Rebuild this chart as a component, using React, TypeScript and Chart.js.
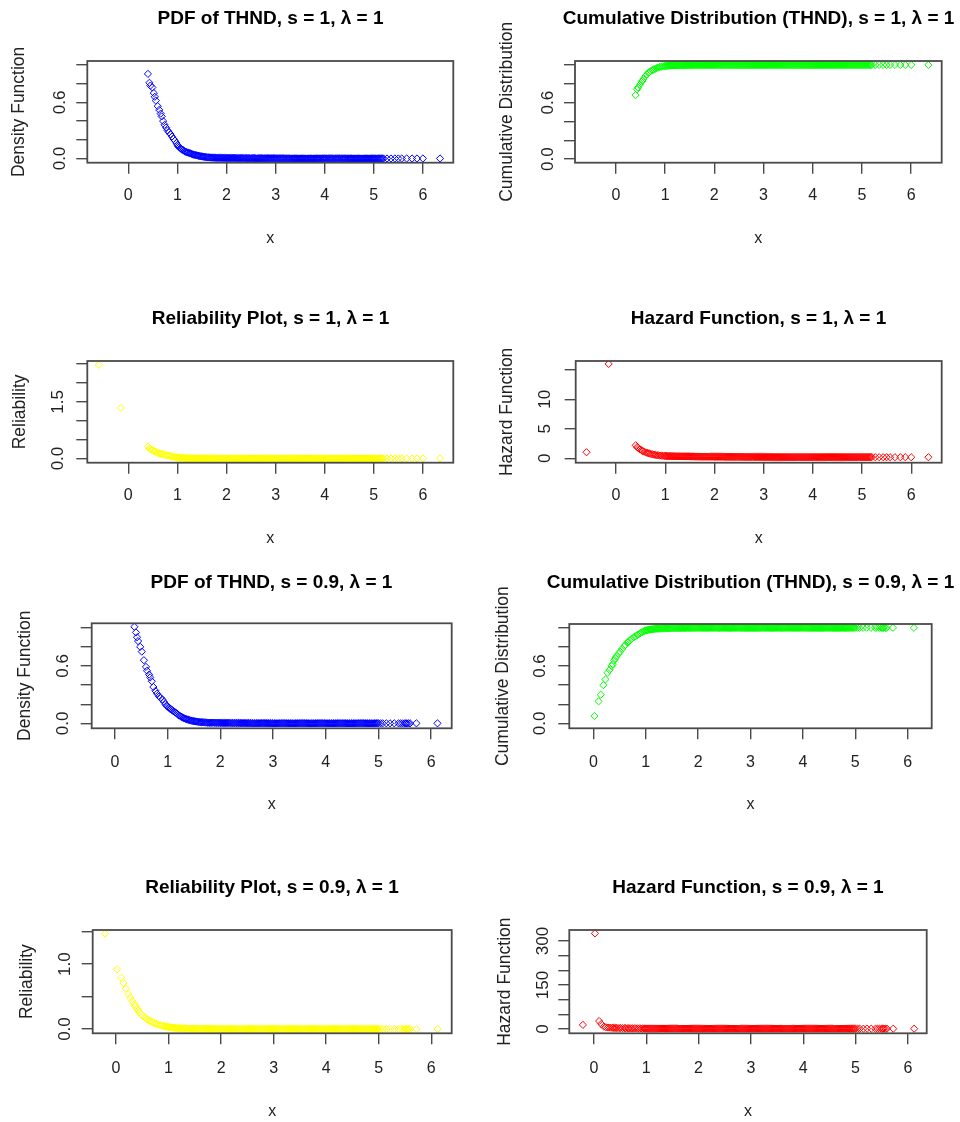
import React, { useEffect, useRef } from "react";
import { Chart, registerables } from "chart.js";

Chart.register(...registerables);

// ---------------- data ----------------
const X_TICKS = [0, 1, 2, 3, 4, 5, 6];
const X_TICK_LABELS = ["0", "1", "2", "3", "4", "5", "6"];

// sample points, s = 1  (head 23, dense band 211, tail 10)
const X_S1 = [
  -0.60, -0.15, 0.40, 0.43, 0.45, 0.49, 0.52, 0.54, 0.56, 0.60,
  0.63, 0.66, 0.68, 0.71, 0.74, 0.77, 0.80, 0.83, 0.86, 0.89,
  0.92, 0.95, 0.98,
  1.00, 1.02, 1.04, 1.06, 1.08, 1.10, 1.12, 1.14, 1.16, 1.18,
  1.20, 1.22, 1.24, 1.26, 1.28, 1.30, 1.32, 1.34, 1.36, 1.38,
  1.40, 1.42, 1.44, 1.46, 1.48, 1.50, 1.52, 1.54, 1.56, 1.58,
  1.60, 1.62, 1.64, 1.66, 1.68, 1.70, 1.72, 1.74, 1.76, 1.78,
  1.80, 1.82, 1.84, 1.86, 1.88, 1.90, 1.92, 1.94, 1.96, 1.98,
  2.00, 2.02, 2.04, 2.06, 2.08, 2.10, 2.12, 2.14, 2.16, 2.18,
  2.20, 2.22, 2.24, 2.26, 2.28, 2.30, 2.32, 2.34, 2.36, 2.38,
  2.40, 2.42, 2.44, 2.46, 2.48, 2.50, 2.52, 2.54, 2.56, 2.58,
  2.60, 2.62, 2.64, 2.66, 2.68, 2.70, 2.72, 2.74, 2.76, 2.78,
  2.80, 2.82, 2.84, 2.86, 2.88, 2.90, 2.92, 2.94, 2.96, 2.98,
  3.00, 3.02, 3.04, 3.06, 3.08, 3.10, 3.12, 3.14, 3.16, 3.18,
  3.20, 3.22, 3.24, 3.26, 3.28, 3.30, 3.32, 3.34, 3.36, 3.38,
  3.40, 3.42, 3.44, 3.46, 3.48, 3.50, 3.52, 3.54, 3.56, 3.58,
  3.60, 3.62, 3.64, 3.66, 3.68, 3.70, 3.72, 3.74, 3.76, 3.78,
  3.80, 3.82, 3.84, 3.86, 3.88, 3.90, 3.92, 3.94, 3.96, 3.98,
  4.00, 4.02, 4.04, 4.06, 4.08, 4.10, 4.12, 4.14, 4.16, 4.18,
  4.20, 4.22, 4.24, 4.26, 4.28, 4.30, 4.32, 4.34, 4.36, 4.38,
  4.40, 4.42, 4.44, 4.46, 4.48, 4.50, 4.52, 4.54, 4.56, 4.58,
  4.60, 4.62, 4.64, 4.66, 4.68, 4.70, 4.72, 4.74, 4.76, 4.78,
  4.80, 4.82, 4.84, 4.86, 4.88, 4.90, 4.92, 4.94, 4.96, 4.98,
  5.00, 5.02, 5.04, 5.06, 5.08, 5.10, 5.12, 5.14, 5.16, 5.18,
  5.20,
  5.27, 5.35, 5.43, 5.50, 5.57, 5.67, 5.78, 5.88, 6.00, 6.35,
];

const PDF_S1 = [
  null, null, 0.905, 0.81, 0.78, 0.76, 0.70, 0.66, 0.62, 0.56,
  0.52, 0.48, 0.45, 0.40, 0.36, 0.33, 0.30, 0.28, 0.26, 0.235,
  0.21, 0.19, 0.165,
  0.145, 0.13, 0.12, 0.11, 0.10, 0.095, 0.088, 0.08, 0.073, 0.07,
  0.065, 0.062, 0.058, 0.055, 0.051, 0.047, 0.043, 0.04, 0.038, 0.035,
  0.033, 0.031, 0.028, 0.026, 0.024, 0.022, 0.02, 0.018, 0.017, 0.015,
  0.014, 0.013, 0.012, 0.011, 0.010, 0.010, 0.009, 0.009, 0.008, 0.008,
  0.007, 0.007, 0.007, 0.007, 0.007, 0.006, 0.006, 0.006, 0.006, 0.006,
  0.005, 0.005, 0.005, 0.005, 0.005, 0.005, 0.005, 0.005, 0.005, 0.005,
  0.004, 0.004, 0.004, 0.004, 0.004, 0.004, 0.004, 0.004, 0.004, 0.004,
  0.003, 0.003, 0.003, 0.003, 0.003, 0.003, 0.003, 0.003, 0.003, 0.003,
  0.002, 0.002, 0.002, 0.002, 0.002, 0.002, 0.002, 0.002, 0.002, 0.002,
  0.002, 0.002, 0.002, 0.002, 0.002, 0.002, 0.002, 0.002, 0.002, 0.002,
  0.001, 0.001, 0.001, 0.001, 0.001, 0.001, 0.001, 0.001, 0.001, 0.001,
  0, 0, 0, 0, 0, 0, 0, 0, 0, 0,
  0, 0, 0, 0, 0, 0, 0, 0, 0, 0,
  0, 0, 0, 0, 0, 0, 0, 0, 0, 0,
  0, 0, 0, 0, 0, 0, 0, 0, 0, 0,
  0, 0, 0, 0, 0, 0, 0, 0, 0, 0,
  0, 0, 0, 0, 0, 0, 0, 0, 0, 0,
  0, 0, 0, 0, 0, 0, 0, 0, 0, 0,
  0, 0, 0, 0, 0, 0, 0, 0, 0, 0,
  0, 0, 0, 0, 0, 0, 0, 0, 0, 0,
  0, 0, 0, 0, 0, 0, 0, 0, 0, 0,
  0,
  0, 0, 0, 0, 0, 0, 0, 0, 0, 0,
];

const CDF_S1 = [
  null, null, 0.68, 0.74, 0.76, 0.79, 0.82, 0.83, 0.85, 0.88,
  0.90, 0.915, 0.925, 0.935, 0.945, 0.952, 0.96, 0.967, 0.972, 0.977,
  0.981, 0.985, 0.987,
  0.989, 0.99, 0.991, 0.992, 0.993, 0.994, 0.994, 0.995, 0.995, 0.996,
  0.996, 0.997, 0.997, 0.997, 0.997, 0.998, 0.998, 0.998, 0.998, 0.998,
  0.998, 0.998, 0.998, 0.999, 0.999, 0.999, 0.999, 0.999, 0.999, 0.999,
  1, 1, 1, 1, 1, 1, 1, 1, 1, 1,
  1, 1, 1, 1, 1, 1, 1, 1, 1, 1,
  1, 1, 1, 1, 1, 1, 1, 1, 1, 1,
  1, 1, 1, 1, 1, 1, 1, 1, 1, 1,
  1, 1, 1, 1, 1, 1, 1, 1, 1, 1,
  1, 1, 1, 1, 1, 1, 1, 1, 1, 1,
  1, 1, 1, 1, 1, 1, 1, 1, 1, 1,
  1, 1, 1, 1, 1, 1, 1, 1, 1, 1,
  1, 1, 1, 1, 1, 1, 1, 1, 1, 1,
  1, 1, 1, 1, 1, 1, 1, 1, 1, 1,
  1, 1, 1, 1, 1, 1, 1, 1, 1, 1,
  1, 1, 1, 1, 1, 1, 1, 1, 1, 1,
  1, 1, 1, 1, 1, 1, 1, 1, 1, 1,
  1, 1, 1, 1, 1, 1, 1, 1, 1, 1,
  1, 1, 1, 1, 1, 1, 1, 1, 1, 1,
  1, 1, 1, 1, 1, 1, 1, 1, 1, 1,
  1, 1, 1, 1, 1, 1, 1, 1, 1, 1,
  1, 1, 1, 1, 1, 1, 1, 1, 1, 1,
  1,
  1, 1, 1, 1, 1, 1, 1, 1, 1, 1,
];

const REL_S1 = [
  2.48, 1.34, 0.32, 0.27, 0.25, 0.22, 0.20, 0.19, 0.18, 0.15,
  0.14, 0.13, 0.12, 0.11, 0.10, 0.092, 0.085, 0.075, 0.065, 0.055,
  0.046, 0.038, 0.032,
  0.028, 0.025, 0.022, 0.02, 0.018, 0.016, 0.014, 0.013, 0.012, 0.011,
  0.010, 0.009, 0.008, 0.007, 0.007, 0.006, 0.006, 0.005, 0.005, 0.004,
  0.004, 0.004, 0.003, 0.003, 0.003, 0.003, 0.002, 0.002, 0.002, 0.002,
  0.002, 0.002, 0.002, 0.002, 0.002, 0.001, 0.001, 0.001, 0.001, 0.001,
  0.001, 0.001, 0.001, 0.001, 0.001, 0.001, 0.001, 0.001, 0.001, 0.001,
  0, 0, 0, 0, 0, 0, 0, 0, 0, 0,
  0, 0, 0, 0, 0, 0, 0, 0, 0, 0,
  0, 0, 0, 0, 0, 0, 0, 0, 0, 0,
  0, 0, 0, 0, 0, 0, 0, 0, 0, 0,
  0, 0, 0, 0, 0, 0, 0, 0, 0, 0,
  0, 0, 0, 0, 0, 0, 0, 0, 0, 0,
  0, 0, 0, 0, 0, 0, 0, 0, 0, 0,
  0, 0, 0, 0, 0, 0, 0, 0, 0, 0,
  0, 0, 0, 0, 0, 0, 0, 0, 0, 0,
  0, 0, 0, 0, 0, 0, 0, 0, 0, 0,
  0, 0, 0, 0, 0, 0, 0, 0, 0, 0,
  0, 0, 0, 0, 0, 0, 0, 0, 0, 0,
  0, 0, 0, 0, 0, 0, 0, 0, 0, 0,
  0, 0, 0, 0, 0, 0, 0, 0, 0, 0,
  0, 0, 0, 0, 0, 0, 0, 0, 0, 0,
  0, 0, 0, 0, 0, 0, 0, 0, 0, 0,
  0,
  0, 0, 0, 0, 0, 0, 0, 0, 0, 0,
];

const HAZ_S1 = [
  1.02, 16.0, 2.2, 1.9, 1.75, 1.5, 1.35, 1.25, 1.15, 1.0,
  0.92, 0.84, 0.8, 0.72, 0.66, 0.61, 0.57, 0.53, 0.49, 0.46,
  0.44, 0.42, 0.40,
  0.39, 0.38, 0.37, 0.37, 0.36, 0.36, 0.35, 0.35, 0.34, 0.34,
  0.33, 0.33, 0.33, 0.33, 0.33, 0.32, 0.32, 0.32, 0.32, 0.32,
  0.31, 0.31, 0.31, 0.31, 0.31, 0.30, 0.30, 0.30, 0.30, 0.30,
  0.29, 0.29, 0.29, 0.29, 0.29, 0.28, 0.28, 0.28, 0.28, 0.28,
  0.27, 0.27, 0.27, 0.27, 0.27, 0.27, 0.27, 0.27, 0.27, 0.27,
  0.26, 0.26, 0.26, 0.26, 0.26, 0.26, 0.26, 0.26, 0.26, 0.26,
  0.25, 0.25, 0.25, 0.25, 0.25, 0.25, 0.25, 0.25, 0.25, 0.25,
  0.24, 0.24, 0.24, 0.24, 0.24, 0.24, 0.24, 0.24, 0.24, 0.24,
  0.23, 0.23, 0.23, 0.23, 0.23, 0.23, 0.23, 0.23, 0.23, 0.23,
  0.22, 0.22, 0.22, 0.22, 0.22, 0.22, 0.22, 0.22, 0.22, 0.22,
  0.21, 0.21, 0.21, 0.21, 0.21, 0.21, 0.21, 0.21, 0.21, 0.21,
  0.2, 0.2, 0.2, 0.2, 0.2, 0.2, 0.2, 0.2, 0.2, 0.2,
  0.2, 0.2, 0.2, 0.2, 0.2, 0.2, 0.2, 0.2, 0.2, 0.2,
  0.2, 0.2, 0.2, 0.2, 0.2, 0.2, 0.2, 0.2, 0.2, 0.2,
  0.2, 0.2, 0.2, 0.2, 0.2, 0.2, 0.2, 0.2, 0.2, 0.2,
  0.2, 0.2, 0.2, 0.2, 0.2, 0.2, 0.2, 0.2, 0.2, 0.2,
  0.2, 0.2, 0.2, 0.2, 0.2, 0.2, 0.2, 0.2, 0.2, 0.2,
  0.2, 0.2, 0.2, 0.2, 0.2, 0.2, 0.2, 0.2, 0.2, 0.2,
  0.2, 0.2, 0.2, 0.2, 0.2, 0.2, 0.2, 0.2, 0.2, 0.2,
  0.2, 0.2, 0.2, 0.2, 0.2, 0.2, 0.2, 0.2, 0.2, 0.2,
  0.2, 0.2, 0.2, 0.2, 0.2, 0.2, 0.2, 0.2, 0.2, 0.2,
  0.2,
  0.18, 0.18, 0.18, 0.18, 0.18, 0.18, 0.18, 0.18, 0.18, 0.18,
];

// sample points, s = 0.9  (head 30, dense band 200, tail 16)
const X_S09 = [
  -0.21, 0.02, 0.10, 0.14, 0.19, 0.23, 0.27, 0.31, 0.35, 0.37,
  0.40, 0.42, 0.44, 0.48, 0.51, 0.55, 0.59, 0.61, 0.65, 0.67,
  0.70, 0.73, 0.77, 0.80, 0.84, 0.87, 0.90, 0.93, 0.96, 0.98,
  1.00, 1.02, 1.04, 1.06, 1.08, 1.10, 1.12, 1.14, 1.16, 1.18,
  1.20, 1.22, 1.24, 1.26, 1.28, 1.30, 1.32, 1.34, 1.36, 1.38,
  1.40, 1.42, 1.44, 1.46, 1.48, 1.50, 1.52, 1.54, 1.56, 1.58,
  1.60, 1.62, 1.64, 1.66, 1.68, 1.70, 1.72, 1.74, 1.76, 1.78,
  1.80, 1.82, 1.84, 1.86, 1.88, 1.90, 1.92, 1.94, 1.96, 1.98,
  2.00, 2.02, 2.04, 2.06, 2.08, 2.10, 2.12, 2.14, 2.16, 2.18,
  2.20, 2.22, 2.24, 2.26, 2.28, 2.30, 2.32, 2.34, 2.36, 2.38,
  2.40, 2.42, 2.44, 2.46, 2.48, 2.50, 2.52, 2.54, 2.56, 2.58,
  2.60, 2.62, 2.64, 2.66, 2.68, 2.70, 2.72, 2.74, 2.76, 2.78,
  2.80, 2.82, 2.84, 2.86, 2.88, 2.90, 2.92, 2.94, 2.96, 2.98,
  3.00, 3.02, 3.04, 3.06, 3.08, 3.10, 3.12, 3.14, 3.16, 3.18,
  3.20, 3.22, 3.24, 3.26, 3.28, 3.30, 3.32, 3.34, 3.36, 3.38,
  3.40, 3.42, 3.44, 3.46, 3.48, 3.50, 3.52, 3.54, 3.56, 3.58,
  3.60, 3.62, 3.64, 3.66, 3.68, 3.70, 3.72, 3.74, 3.76, 3.78,
  3.80, 3.82, 3.84, 3.86, 3.88, 3.90, 3.92, 3.94, 3.96, 3.98,
  4.00, 4.02, 4.04, 4.06, 4.08, 4.10, 4.12, 4.14, 4.16, 4.18,
  4.20, 4.22, 4.24, 4.26, 4.28, 4.30, 4.32, 4.34, 4.36, 4.38,
  4.40, 4.42, 4.44, 4.46, 4.48, 4.50, 4.52, 4.54, 4.56, 4.58,
  4.60, 4.62, 4.64, 4.66, 4.68, 4.70, 4.72, 4.74, 4.76, 4.78,
  4.80, 4.82, 4.84, 4.86, 4.88, 4.90, 4.92, 4.94, 4.96, 4.98,
  5.00, 5.04, 5.08, 5.15, 5.22, 5.30, 5.38, 5.42, 5.46, 5.50,
  5.52, 5.54, 5.57, 5.60, 5.72, 6.12,
];

const PDF_S09 = [
  null, null, null, null, null, null, null, null, null, 1.01,
  0.95, 0.90, 0.86, 0.80, 0.75, 0.66, 0.59, 0.55, 0.51, 0.48,
  0.44, 0.38, 0.34, 0.31, 0.28, 0.265, 0.25, 0.225, 0.20, 0.185,
  0.175, 0.165, 0.155, 0.15, 0.14, 0.13, 0.125, 0.115, 0.11, 0.10,
  0.09, 0.082, 0.075, 0.068, 0.062, 0.056, 0.051, 0.047, 0.043, 0.04,
  0.036, 0.033, 0.03, 0.027, 0.025, 0.023, 0.021, 0.019, 0.017, 0.015,
  0.014, 0.013, 0.012, 0.011, 0.01, 0.009, 0.008, 0.008, 0.007, 0.007,
  0.006, 0.006, 0.006, 0.006, 0.006, 0.005, 0.005, 0.005, 0.005, 0.005,
  0.004, 0.004, 0.004, 0.004, 0.004, 0.004, 0.004, 0.004, 0.004, 0.004,
  0.003, 0.003, 0.003, 0.003, 0.003, 0.003, 0.003, 0.003, 0.003, 0.003,
  0.002, 0.002, 0.002, 0.002, 0.002, 0.002, 0.002, 0.002, 0.002, 0.002,
  0.001, 0.001, 0.001, 0.001, 0.001, 0.001, 0.001, 0.001, 0.001, 0.001,
  0.001, 0.001, 0.001, 0.001, 0.001, 0.001, 0.001, 0.001, 0.001, 0.001,
  0, 0, 0, 0, 0, 0, 0, 0, 0, 0,
  0, 0, 0, 0, 0, 0, 0, 0, 0, 0,
  0, 0, 0, 0, 0, 0, 0, 0, 0, 0,
  0, 0, 0, 0, 0, 0, 0, 0, 0, 0,
  0, 0, 0, 0, 0, 0, 0, 0, 0, 0,
  0, 0, 0, 0, 0, 0, 0, 0, 0, 0,
  0, 0, 0, 0, 0, 0, 0, 0, 0, 0,
  0, 0, 0, 0, 0, 0, 0, 0, 0, 0,
  0, 0, 0, 0, 0, 0, 0, 0, 0, 0,
  0, 0, 0, 0, 0, 0, 0, 0, 0, 0,
  0, 0, 0, 0, 0, 0, 0, 0, 0, 0,
  0, 0, 0, 0, 0, 0,
];

const CDF_S09 = [
  null, 0.077, 0.23, 0.30, 0.40, 0.46, 0.53, 0.56, 0.60, 0.62,
  0.66, 0.68, 0.70, 0.73, 0.75, 0.78, 0.81, 0.82, 0.845, 0.855,
  0.87, 0.885, 0.90, 0.91, 0.925, 0.935, 0.945, 0.955, 0.963, 0.968,
  0.972, 0.975, 0.978, 0.98, 0.982, 0.984, 0.986, 0.987, 0.988, 0.989,
  0.99, 0.991, 0.992, 0.993, 0.993, 0.994, 0.994, 0.995, 0.995, 0.996,
  0.996, 0.996, 0.996, 0.997, 0.997, 0.997, 0.997, 0.998, 0.998, 0.998,
  0.998, 0.998, 0.998, 0.998, 0.998, 0.999, 0.999, 0.999, 0.999, 0.999,
  1, 1, 1, 1, 1, 1, 1, 1, 1, 1,
  1, 1, 1, 1, 1, 1, 1, 1, 1, 1,
  1, 1, 1, 1, 1, 1, 1, 1, 1, 1,
  1, 1, 1, 1, 1, 1, 1, 1, 1, 1,
  1, 1, 1, 1, 1, 1, 1, 1, 1, 1,
  1, 1, 1, 1, 1, 1, 1, 1, 1, 1,
  1, 1, 1, 1, 1, 1, 1, 1, 1, 1,
  1, 1, 1, 1, 1, 1, 1, 1, 1, 1,
  1, 1, 1, 1, 1, 1, 1, 1, 1, 1,
  1, 1, 1, 1, 1, 1, 1, 1, 1, 1,
  1, 1, 1, 1, 1, 1, 1, 1, 1, 1,
  1, 1, 1, 1, 1, 1, 1, 1, 1, 1,
  1, 1, 1, 1, 1, 1, 1, 1, 1, 1,
  1, 1, 1, 1, 1, 1, 1, 1, 1, 1,
  1, 1, 1, 1, 1, 1, 1, 1, 1, 1,
  1, 1, 1, 1, 1, 1, 1, 1, 1, 1,
  1, 1, 1, 1, 1, 1, 1, 1, 1, 1,
  1, 1, 1, 1, 1, 1,
];

const REL_S09 = [
  1.47, 0.92, 0.79, 0.71, 0.62, 0.54, 0.48, 0.43, 0.38, 0.35,
  0.31, 0.29, 0.26, 0.22, 0.20, 0.18, 0.155, 0.14, 0.125, 0.115,
  0.10, 0.09, 0.08, 0.07, 0.06, 0.053, 0.047, 0.042, 0.037, 0.034,
  0.03, 0.028, 0.025, 0.023, 0.021, 0.019, 0.017, 0.016, 0.014, 0.013,
  0.012, 0.011, 0.01, 0.009, 0.008, 0.008, 0.007, 0.006, 0.006, 0.005,
  0.005, 0.004, 0.004, 0.004, 0.004, 0.003, 0.003, 0.003, 0.003, 0.003,
  0.002, 0.002, 0.002, 0.002, 0.002, 0.002, 0.002, 0.002, 0.002, 0.002,
  0.001, 0.001, 0.001, 0.001, 0.001, 0.001, 0.001, 0.001, 0.001, 0.001,
  0, 0, 0, 0, 0, 0, 0, 0, 0, 0,
  0, 0, 0, 0, 0, 0, 0, 0, 0, 0,
  0, 0, 0, 0, 0, 0, 0, 0, 0, 0,
  0, 0, 0, 0, 0, 0, 0, 0, 0, 0,
  0, 0, 0, 0, 0, 0, 0, 0, 0, 0,
  0, 0, 0, 0, 0, 0, 0, 0, 0, 0,
  0, 0, 0, 0, 0, 0, 0, 0, 0, 0,
  0, 0, 0, 0, 0, 0, 0, 0, 0, 0,
  0, 0, 0, 0, 0, 0, 0, 0, 0, 0,
  0, 0, 0, 0, 0, 0, 0, 0, 0, 0,
  0, 0, 0, 0, 0, 0, 0, 0, 0, 0,
  0, 0, 0, 0, 0, 0, 0, 0, 0, 0,
  0, 0, 0, 0, 0, 0, 0, 0, 0, 0,
  0, 0, 0, 0, 0, 0, 0, 0, 0, 0,
  0, 0, 0, 0, 0, 0, 0, 0, 0, 0,
  0, 0, 0, 0, 0, 0, 0, 0, 0, 0,
  0, 0, 0, 0, 0, 0,
];

const HAZ_S09 = [
  14, 326, 27, 17, 8, 6, 5, 4.5, 4, 3.8,
  3.6, 3.4, 3.3, 3.1, 3.0, 2.8, 2.7, 2.6, 2.5, 2.4,
  2.3, 2.2, 2.1, 2.0, 1.9, 1.85, 1.8, 1.75, 1.7, 1.65,
  1.6, 1.6, 1.6, 1.6, 1.6, 1.6, 1.6, 1.6, 1.6, 1.6,
  1.5, 1.5, 1.5, 1.5, 1.5, 1.5, 1.5, 1.5, 1.5, 1.5,
  1.4, 1.4, 1.4, 1.4, 1.4, 1.4, 1.4, 1.4, 1.4, 1.4,
  1.3, 1.3, 1.3, 1.3, 1.3, 1.3, 1.3, 1.3, 1.3, 1.3,
  1.2, 1.2, 1.2, 1.2, 1.2, 1.2, 1.2, 1.2, 1.2, 1.2,
  1.1, 1.1, 1.1, 1.1, 1.1, 1.1, 1.1, 1.1, 1.1, 1.1,
  1.1, 1.1, 1.1, 1.1, 1.1, 1.1, 1.1, 1.1, 1.1, 1.1,
  1.1, 1.1, 1.1, 1.1, 1.1, 1.1, 1.1, 1.1, 1.1, 1.1,
  1.1, 1.1, 1.1, 1.1, 1.1, 1.1, 1.1, 1.1, 1.1, 1.1,
  1.1, 1.1, 1.1, 1.1, 1.1, 1.1, 1.1, 1.1, 1.1, 1.1,
  1.1, 1.1, 1.1, 1.1, 1.1, 1.1, 1.1, 1.1, 1.1, 1.1,
  1.1, 1.1, 1.1, 1.1, 1.1, 1.1, 1.1, 1.1, 1.1, 1.1,
  1.1, 1.1, 1.1, 1.1, 1.1, 1.1, 1.1, 1.1, 1.1, 1.1,
  1.1, 1.1, 1.1, 1.1, 1.1, 1.1, 1.1, 1.1, 1.1, 1.1,
  1.1, 1.1, 1.1, 1.1, 1.1, 1.1, 1.1, 1.1, 1.1, 1.1,
  1.1, 1.1, 1.1, 1.1, 1.1, 1.1, 1.1, 1.1, 1.1, 1.1,
  1.1, 1.1, 1.1, 1.1, 1.1, 1.1, 1.1, 1.1, 1.1, 1.1,
  1.1, 1.1, 1.1, 1.1, 1.1, 1.1, 1.1, 1.1, 1.1, 1.1,
  1.1, 1.1, 1.1, 1.1, 1.1, 1.1, 1.1, 1.1, 1.1, 1.1,
  1.1, 1.1, 1.1, 1.1, 1.1, 1.1, 1.1, 1.1, 1.1, 1.1,
  1.0, 1.0, 1.0, 1.0, 1.0, 1.0, 1.0, 1.0, 1.0, 1.0,
  1.0, 1.0, 1.0, 1.0, 1.0, 1.0,
];

// y-axis ticks and their printed labels
const Y_TICKS_PROB = [0, 0.2, 0.4, 0.6, 0.8, 1.0];
const Y_LABELS_PROB = ["0.0", "", "", "0.6", "", ""];
const Y_TICKS_REL_S1 = [0, 0.5, 1.0, 1.5, 2.0, 2.5];
const Y_LABELS_REL_S1 = ["0.0", "", "", "1.5", "", ""];
const Y_TICKS_HAZ_S1 = [0, 5, 10, 15];
const Y_LABELS_HAZ_S1 = ["0", "5", "10", ""];
const Y_TICKS_REL_S09 = [0, 0.5, 1.0, 1.5];
const Y_LABELS_REL_S09 = ["0.0", "", "1.0", ""];
const Y_TICKS_HAZ_S09 = [0, 50, 100, 150, 200, 250, 300];
const Y_LABELS_HAZ_S09 = ["0", "", "", "150", "", "", "300"];

// ---------------- panels ----------------
type Panel = {
  title: string;
  yTitle: string;
  color: string;
  xs: number[];
  ys: (number | null)[];
  xRange: [number, number];
  yRange: [number, number];
  yTicks: number[];
  yLabels: string[];
};

const PANELS: Panel[] = [
  { title: "PDF of THND, s = 1, λ = 1", yTitle: "Density Function", color: "#0000ff", xs: X_S1, ys: PDF_S1, xRange: [-0.835, 6.62], yRange: [-0.045, 1.043], yTicks: Y_TICKS_PROB, yLabels: Y_LABELS_PROB },
  { title: "Cumulative Distribution (THND), s = 1, λ = 1", yTitle: "Cumulative Distribution", color: "#00ff00", xs: X_S1, ys: CDF_S1, xRange: [-0.83, 6.62], yRange: [-0.038, 1.042], yTicks: Y_TICKS_PROB, yLabels: Y_LABELS_PROB },
  { title: "Reliability Plot, s = 1, λ = 1", yTitle: "Reliability", color: "#ffff00", xs: X_S1, ys: REL_S1, xRange: [-0.835, 6.62], yRange: [-0.11, 2.58], yTicks: Y_TICKS_REL_S1, yLabels: Y_LABELS_REL_S1 },
  { title: "Hazard Function, s = 1, λ = 1", yTitle: "Hazard Function", color: "#ff0000", xs: X_S1, ys: HAZ_S1, xRange: [-0.82, 6.62], yRange: [-0.75, 16.5], yTicks: Y_TICKS_HAZ_S1, yLabels: Y_LABELS_HAZ_S1 },
  { title: "PDF of THND, s = 0.9, λ = 1", yTitle: "Density Function", color: "#0000ff", xs: X_S09, ys: PDF_S09, xRange: [-0.44, 6.39], yRange: [-0.052, 1.046], yTicks: Y_TICKS_PROB, yLabels: Y_LABELS_PROB },
  { title: "Cumulative Distribution (THND), s = 0.9, λ = 1", yTitle: "Cumulative Distribution", color: "#00ff00", xs: X_S09, ys: CDF_S09, xRange: [-0.46, 6.46], yRange: [-0.052, 1.04], yTicks: Y_TICKS_PROB, yLabels: Y_LABELS_PROB },
  { title: "Reliability Plot, s = 0.9, λ = 1", yTitle: "Reliability", color: "#ffff00", xs: X_S09, ys: REL_S09, xRange: [-0.444, 6.39], yRange: [-0.066, 1.525], yTicks: Y_TICKS_REL_S09, yLabels: Y_LABELS_REL_S09 },
  { title: "Hazard Function, s = 0.9, λ = 1", yTitle: "Hazard Function", color: "#ff0000", xs: X_S09, ys: HAZ_S09, xRange: [-0.47, 6.36], yRange: [-14.7, 337.5], yTicks: Y_TICKS_HAZ_S09, yLabels: Y_LABELS_HAZ_S09 },
];

// ---------------- layout (page pixels) ----------------
type Frame = {
  canvasLeft: number;
  canvasTop: number;
  box: [number, number, number, number];
  titleY: number;
  xTickY: number;
  xTitleY: number;
  yTickX: number;
  yTitleX: number;
};

const FRAMES: Frame[] = [
  { canvasLeft: 0, canvasTop: 0, box: [87.3, 61, 453.3, 162.7], titleY: 18.5, xTickY: 195.8, xTitleY: 238.5, yTickX: 60, yTitleX: 19 },
  { canvasLeft: 488, canvasTop: 0, box: [575, 61, 941.7, 162.7], titleY: 19, xTickY: 195.8, xTitleY: 238.5, yTickX: 548.3, yTitleX: 507 },
  { canvasLeft: 0, canvasTop: 285, box: [87.3, 361, 453.3, 462.7], titleY: 318.3, xTickY: 495.8, xTitleY: 539, yTickX: 58, yTitleX: 20 },
  { canvasLeft: 488, canvasTop: 285, box: [575.7, 361, 941.7, 462.7], titleY: 318.3, xTickY: 495.8, xTitleY: 539, yTickX: 545, yTitleX: 507.3 },
  { canvasLeft: 0, canvasTop: 548, box: [91.7, 623.3, 451.7, 728.3], titleY: 582.5, xTickY: 762.5, xTitleY: 805, yTickX: 63.3, yTitleX: 25 },
  { canvasLeft: 488, canvasTop: 548, box: [569.3, 624, 931.7, 728.3], titleY: 582.5, xTickY: 762.5, xTitleY: 805, yTickX: 540, yTitleX: 503.3 },
  { canvasLeft: 0, canvasTop: 852, box: [92.7, 930, 451.7, 1033.3], titleY: 887.5, xTickY: 1069, xTitleY: 1111.5, yTickX: 65, yTitleX: 26.7 },
  { canvasLeft: 488, canvasTop: 852, box: [569.3, 930, 926.7, 1033.3], titleY: 887.5, xTickY: 1068.5, xTitleY: 1111.5, yTickX: 543.3, yTitleX: 505 },
];

const FONT = "'Liberation Sans', Arial, Helvetica, sans-serif";
const TITLE_SIZE = 19;
const XTICK_SIZE = 16;
const YTICK_SIZE = 17;
const XTITLE_SIZE = 16;
const YTITLE_SIZE = 17.5;
const TICK_LEN = 11;
const POINT_RADIUS = 3.6;
const INK = "#222222";
const FRAME_COLOR = "#4a4a4a";

type Geom = { cw: number; ch: number; l: number; r: number; t: number; b: number };

function computeGeom(f: Frame): Geom {
  const [L, T, R, B] = f.box;
  const center = (L + R) / 2 - f.canvasLeft;
  const cw = Math.round(center * 2);
  const ch = Math.round(f.xTitleY - f.canvasTop + 14);
  return { cw, ch, l: L - f.canvasLeft, r: R - f.canvasLeft, t: T - f.canvasTop, b: B - f.canvasTop };
}

let measureCtx: CanvasRenderingContext2D | null = null;
function measure(text: string, font: string): number {
  if (!measureCtx) measureCtx = document.createElement("canvas").getContext("2d");
  if (!measureCtx) return text.length * 9;
  measureCtx.font = font;
  return measureCtx.measureText(text).width;
}

const boxPlugin = {
  id: "rbox",
  afterDatasetsDraw(chart: any) {
    const { ctx, chartArea: a } = chart;
    ctx.save();
    ctx.strokeStyle = FRAME_COLOR;
    ctx.lineWidth = 1.8;
    ctx.strokeRect(a.left, a.top, a.right - a.left, a.bottom - a.top);
    ctx.restore();
  },
};

function makeChart(canvas: HTMLCanvasElement, p: Panel, f: Frame, g: Geom) {
  const lhTitle = TITLE_SIZE * 1.2;
  const lhXTick = XTICK_SIZE * 1.2;
  const lhXT = XTITLE_SIZE * 1.2;
  const lhYT = YTITLE_SIZE * 1.2;
  const titleTop = f.titleY - f.canvasTop - lhTitle / 2;
  const titleBottom = Math.max(0, g.t - titleTop - lhTitle);
  const widest = Math.max(...p.yLabels.map((s) => measure(s, `${YTICK_SIZE}px ${FONT}`)));
  const yTickPad = g.l - TICK_LEN - (f.yTickX - f.canvasLeft) - widest / 2;
  const yTitlePad = f.yTitleX - f.canvasLeft - lhYT / 2;
  const xTickPad = f.xTickY - f.canvasTop - g.b - TICK_LEN - lhXTick / 2;
  const xTitlePad = g.ch - (f.xTitleY - f.canvasTop) - lhXT / 2;
  const points = p.xs
    .map((x, i) => ({ x, y: p.ys[i] }))
    .filter((pt) => pt.y !== null && pt.y !== undefined) as { x: number; y: number }[];

  return new Chart(canvas, {
    type: "scatter",
    data: {
      datasets: [
        {
          data: points,
          xAxisID: "x",
          yAxisID: "y",
          pointStyle: "rectRot",
          pointRadius: POINT_RADIUS,
          pointHoverRadius: POINT_RADIUS,
          pointBorderWidth: 1,
          pointHoverBorderWidth: 1,
          borderColor: p.color,
          pointBorderColor: p.color,
          backgroundColor: "rgba(0,0,0,0)",
          pointBackgroundColor: "rgba(0,0,0,0)",
        } as any,
      ],
    },
    options: {
      responsive: false,
      animation: false,
      events: [],
      layout: { padding: 0, autoPadding: false } as any,
      plugins: {
        legend: { display: false },
        tooltip: { enabled: false },
        title: {
          display: true,
          text: p.title,
          color: "#000000",
          font: { family: FONT, size: TITLE_SIZE, weight: "bold" },
          padding: { top: titleTop, bottom: titleBottom },
          fullSize: true,
        },
      },
      scales: {
        x: {
          type: "linear",
          position: "bottom",
          min: p.xRange[0],
          max: p.xRange[1],
          afterBuildTicks: (axis: any) => {
            axis.ticks = X_TICKS.map((v) => ({ value: v }));
          },
          afterFit: (axis: any) => {
            axis.height = g.ch - g.b;
          },
          ticks: {
            callback: (_v: any, i: number) => X_TICK_LABELS[i],
            autoSkip: false,
            maxRotation: 0,
            minRotation: 0,
            padding: xTickPad,
            color: INK,
            font: { family: FONT, size: XTICK_SIZE },
          },
          grid: { display: true, drawOnChartArea: false, drawTicks: true, tickLength: TICK_LEN, color: FRAME_COLOR, lineWidth: 1.4 },
          border: { display: false },
          title: {
            display: true,
            text: "x",
            color: INK,
            font: { family: FONT, size: XTITLE_SIZE },
            padding: { top: 0, bottom: xTitlePad },
          },
        } as any,
        y: {
          type: "linear",
          position: "left",
          min: p.yRange[0],
          max: p.yRange[1],
          afterBuildTicks: (axis: any) => {
            axis.ticks = p.yTicks.map((v) => ({ value: v }));
          },
          afterFit: (axis: any) => {
            axis.width = g.l;
          },
          ticks: {
            callback: (_v: any, i: number) => p.yLabels[i],
            autoSkip: false,
            minRotation: 90,
            maxRotation: 90,
            crossAlign: "center",
            padding: yTickPad,
            color: INK,
            font: { family: FONT, size: YTICK_SIZE },
          },
          grid: { display: true, drawOnChartArea: false, drawTicks: true, tickLength: TICK_LEN, color: FRAME_COLOR, lineWidth: 1.4 },
          border: { display: false },
          title: {
            display: true,
            text: p.yTitle,
            color: INK,
            font: { family: FONT, size: YTITLE_SIZE },
            padding: { top: yTitlePad, bottom: 0 },
          },
        } as any,
        yr: {
          type: "linear",
          position: "right",
          display: true,
          afterFit: (axis: any) => {
            axis.width = g.cw - g.r;
          },
          ticks: { display: false },
          grid: { display: false, drawTicks: false },
          border: { display: false },
          title: { display: false },
        } as any,
      },
    },
    plugins: [boxPlugin],
  });
}

export default function App() {
  const refs = useRef<Array<HTMLCanvasElement | null>>([]);
  const geoms = FRAMES.map((f) => computeGeom(f));

  useEffect(() => {
    const charts = PANELS.map((p, i) => makeChart(refs.current[i] as HTMLCanvasElement, p, FRAMES[i], geoms[i]));
    return () => {
      charts.forEach((c) => c.destroy());
    };
  }, []);

  return (
    <div
      style={{
        position: "absolute",
        left: 0,
        top: 0,
        width: 960,
        height: 1122,
        overflow: "hidden",
        background: "#ffffff",
      }}
    >
      {PANELS.map((p, i) => (
        <canvas
          key={i}
          ref={(el) => {
            refs.current[i] = el;
          }}
          width={geoms[i].cw}
          height={geoms[i].ch}
          style={{
            position: "absolute",
            left: FRAMES[i].canvasLeft,
            top: FRAMES[i].canvasTop,
            width: geoms[i].cw,
            height: geoms[i].ch,
          }}
        />
      ))}
    </div>
  );
}
